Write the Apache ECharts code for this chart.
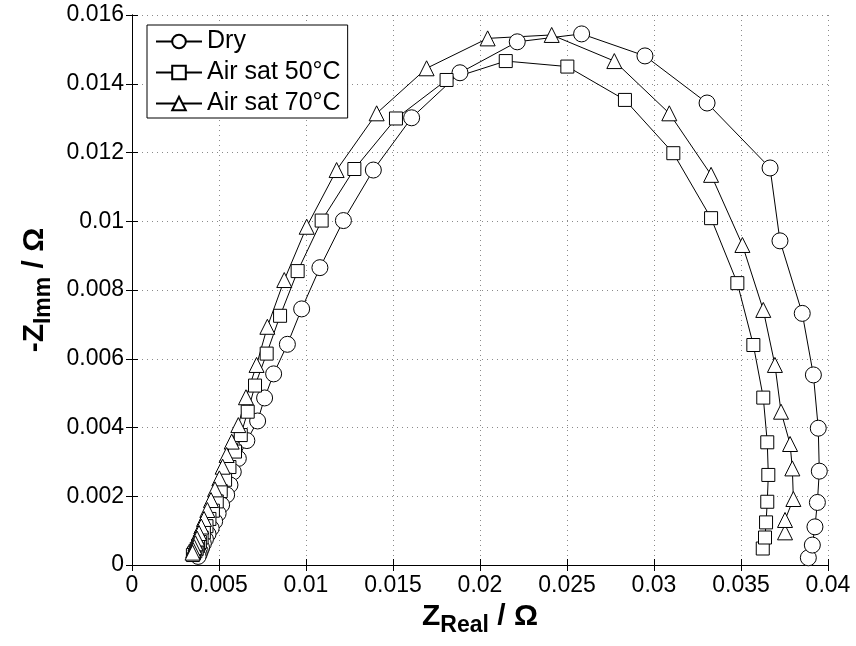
<!DOCTYPE html>
<html>
<head>
<meta charset="utf-8">
<script src="https://cdn.jsdelivr.net/npm/echarts@6/dist/echarts.min.js"></script>
<style>
html,body{margin:0;padding:0;background:#fff;}
#chart{width:856px;height:646px;}
</style>
</head>
<body>
<div id="chart"></div>
<script>
// Data (Z_Real, -Z_Imm) in ohm
const seriesNames = ['Dry', 'Air sat 50°C', 'Air sat 70°C'];
const dry = [
  [0.03887,0.00021],[0.0391,0.00058],[0.03925,0.00111],[0.03939,0.00182],[0.0395,0.00273],
  [0.03944,0.00398],[0.03916,0.00553],[0.03852,0.00732],[0.03724,0.00943],[0.03667,0.01155],
  [0.03305,0.01344],[0.02948,0.01481],[0.02584,0.01545],[0.02214,0.01522],[0.01885,0.01432],
  [0.01607,0.01301],[0.01387,0.01149],[0.01215,0.01002],[0.0108,0.00865],[0.00975,0.00745],
  [0.00893,0.00642],[0.00814,0.00556],[0.00762,0.00486],[0.00722,0.00419],[0.0066,0.00362],
  [0.00611,0.0031],[0.00582,0.00271],[0.00563,0.00233],[0.00544,0.00204],[0.00515,0.00175],
  [0.00495,0.0015],[0.00475,0.00127],[0.00455,0.00107],[0.00437,0.0009],[0.00422,0.00075],
  [0.0041,0.00062],[0.004,0.0005],[0.00392,0.0004],[0.00386,0.00032],[0.0038,0.00025]
];
const air50 = [
  [0.03625,0.00048],[0.03638,0.0008],[0.03644,0.00124],[0.03651,0.00184],[0.03657,0.00262],
  [0.03651,0.00357],[0.03628,0.00487],[0.03571,0.0064],[0.03479,0.0082],[0.03328,0.01009],
  [0.03111,0.01198],[0.02833,0.01353],[0.02502,0.0145],[0.02148,0.01466],[0.01808,0.01411],
  [0.01517,0.01299],[0.01278,0.01152],[0.0109,0.01002],[0.00952,0.00855],[0.00851,0.00725],
  [0.00774,0.00615],[0.00707,0.00522],[0.00665,0.00446],[0.00625,0.00378],[0.00592,0.0033],
  [0.0056,0.00285],[0.00535,0.00248],[0.0051,0.00215],[0.00487,0.00185],[0.00465,0.00158],
  [0.00445,0.00134],[0.00428,0.00113],[0.00413,0.00095],[0.004,0.0008],[0.0039,0.00067],
  [0.0038,0.00056],[0.00372,0.00047],[0.00364,0.0004],[0.00356,0.00034],[0.0035,0.00029]
];
const air70 = [
  [0.03753,0.00095],[0.03753,0.00131],[0.03801,0.00192],[0.03795,0.00281],[0.03782,0.00352],
  [0.0373,0.00446],[0.03695,0.00582],[0.03628,0.00742],[0.03508,0.00931],[0.03328,0.01135],
  [0.03088,0.01314],[0.02772,0.01466],[0.02412,0.01542],[0.02044,0.01532],[0.01693,0.01445],
  [0.01406,0.01314],[0.01176,0.01149],[0.01004,0.00984],[0.00875,0.00829],[0.00778,0.00693],
  [0.00716,0.00582],[0.00655,0.00488],[0.00611,0.00407],[0.00573,0.00359],[0.00544,0.0032],
  [0.00521,0.00286],[0.00502,0.00252],[0.00477,0.0022],[0.00454,0.00189],[0.00433,0.0016],
  [0.00414,0.00134],[0.00398,0.00112],[0.00385,0.00093],[0.00374,0.00077],[0.00365,0.00063],
  [0.00358,0.00052],[0.00352,0.00043],[0.00348,0.00036]
];
const xTicks = {min: 0, max: 0.04, interval: 0.005};
const yTicks = {min: 0, max: 0.016, interval: 0.002};

const FONT = 'Liberation Sans, Arial, sans-serif';
const fmt = v => String(+v.toFixed(4));
const chart = echarts.init(document.getElementById('chart'));

function mkSeries(name, data, symbol, size) {
  return {
    name, type: 'line', data, symbol, symbolSize: size, showSymbol: true,
    lineStyle: {color: '#000', width: 1},
    itemStyle: {color: '#fff', borderColor: '#000', borderWidth: 1},
    emphasis: {disabled: true}, animation: false, clip: false
  };
}
const gridLine = {show: true, lineStyle: {color: '#8a8a8a', type: [1, 4], width: 1}};
const titleStyle = {fontFamily: FONT, fontSize: 30, fontWeight: 'bold', color: '#000',
  rich: {s: {fontFamily: FONT, fontSize: 23, fontWeight: 'bold', color: '#000', padding: [18, 0, 0, 0]}}};
chart.setOption({
  animation: false,
  backgroundColor: '#fff',
  grid: {left: 132, right: 28, top: 15, bottom: 81},
  legend: {
    orient: 'vertical', left: 147, top: 25,
    data: seriesNames,
    backgroundColor: '#fff', borderColor: '#000', borderWidth: 1,
    padding: [4, 7, 2, 8], itemGap: 6, itemWidth: 46, itemHeight: 17,
    textStyle: {fontFamily: FONT, fontSize: 25, lineHeight: 22, color: '#000'}
  },
  xAxis: [{
    type: 'value', min: xTicks.min, max: xTicks.max, interval: xTicks.interval,
    axisLine: {lineStyle: {color: '#000', width: 1}},
    axisTick: {inside: true, length: 6, lineStyle: {color: '#000'}},
    axisLabel: {color: '#000', fontFamily: FONT, fontSize: 23, margin: 9, formatter: fmt},
    splitLine: gridLine,
    name: 'Z{s|Real} / Ω', nameLocation: 'middle', nameGap: 27,
    nameTextStyle: titleStyle
  }, {
    type: 'value', position: 'top', min: xTicks.min, max: xTicks.max, interval: xTicks.interval,
    axisLine: {show: true, lineStyle: {color: '#000', width: 1}},
    axisTick: {show: true, inside: true, length: 6, lineStyle: {color: '#000'}},
    axisLabel: {show: false}, splitLine: {show: false}
  }],
  yAxis: [{
    type: 'value', min: yTicks.min, max: yTicks.max, interval: yTicks.interval,
    axisLine: {show: true, lineStyle: {color: '#000', width: 1}},
    axisTick: {show: true, inside: true, length: 6, lineStyle: {color: '#000'}},
    axisLabel: {color: '#000', fontFamily: FONT, fontSize: 23, margin: 8, formatter: fmt},
    splitLine: gridLine,
    name: '-Z{s|Imm} / Ω', nameLocation: 'middle', nameGap: 76, nameRotate: 90,
    nameTextStyle: titleStyle
  }, {
    type: 'value', position: 'right', min: yTicks.min, max: yTicks.max, interval: yTicks.interval,
    axisLine: {show: true, lineStyle: {color: '#000', width: 1}},
    axisTick: {show: true, inside: true, length: 6, lineStyle: {color: '#000'}},
    axisLabel: {show: false}, splitLine: {show: false}
  }],
  series: [
    mkSeries(seriesNames[0], dry, 'circle', 16),
    mkSeries(seriesNames[1], air50, 'rect', 13),
    mkSeries(seriesNames[2], air70, 'triangle', 15)
  ]
});
</script>
</body>
</html>
